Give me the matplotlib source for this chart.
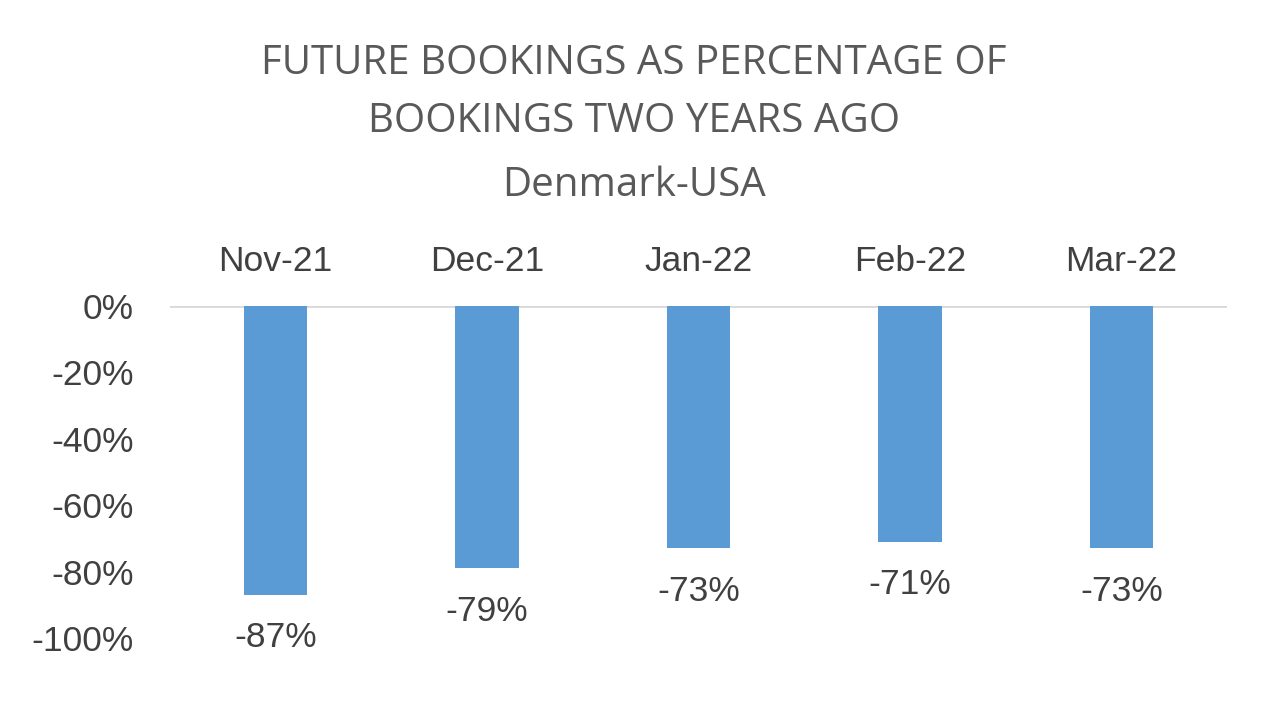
import matplotlib.pyplot as plt
import numpy as np

# data
months = ["Nov-21", "Dec-21", "Jan-22", "Feb-22", "Mar-22"]
values = [-87, -79, -73, -71, -73]
yticks = [0, -20, -40, -60, -80, -100]

bar_color = "#5B9BD5"
text_color = "#404040"
lab_font = "Liberation Sans"

fig = plt.figure(figsize=(12.8, 7.2), dpi=100)
ax = fig.add_axes([0.1328, 0.1139, 0.8258, 0.4611])

x = np.arange(len(months))
ax.bar(x, values, width=0.3, color=bar_color, zorder=2)
ax.axhline(0, color="#D9D9D9", lw=2, zorder=1)

# value labels below the bars
for xi, v in zip(x, values):
    ax.annotate(f"{v}%", (xi, v), xytext=(0, -31), textcoords="offset points",
                ha="center", va="center", fontsize=25.5, color=text_color,
                family=lab_font)

ax.set_xlim(-0.5, len(months) - 0.5)
ax.set_ylim(-100, 0)
ax.set_yticks(yticks)
ax.set_yticklabels([f"{t}%" for t in yticks], fontsize=25.5, color=text_color,
                   family=lab_font)
ax.tick_params(axis="y", length=0, pad=26)

# month labels on top
ax.xaxis.tick_top()
ax.set_xticks(x)
ax.set_xticklabels(months, fontsize=25.5, color=text_color, family=lab_font)
ax.tick_params(axis="x", length=0, pad=20)

for s in ax.spines.values():
    s.set_visible(False)

title_kw = dict(ha="center", va="center", fontsize=29, color="#595959", family="Open Sans")
fig.text(0.495, 0.912, "FUTURE BOOKINGS AS PERCENTAGE OF", **title_kw)
fig.text(0.495, 0.831, "BOOKINGS TWO YEARS AGO", **title_kw)
fig.text(0.495, 0.742, "Denmark-USA", **title_kw)

fig.savefig("out.png", dpi=100)
